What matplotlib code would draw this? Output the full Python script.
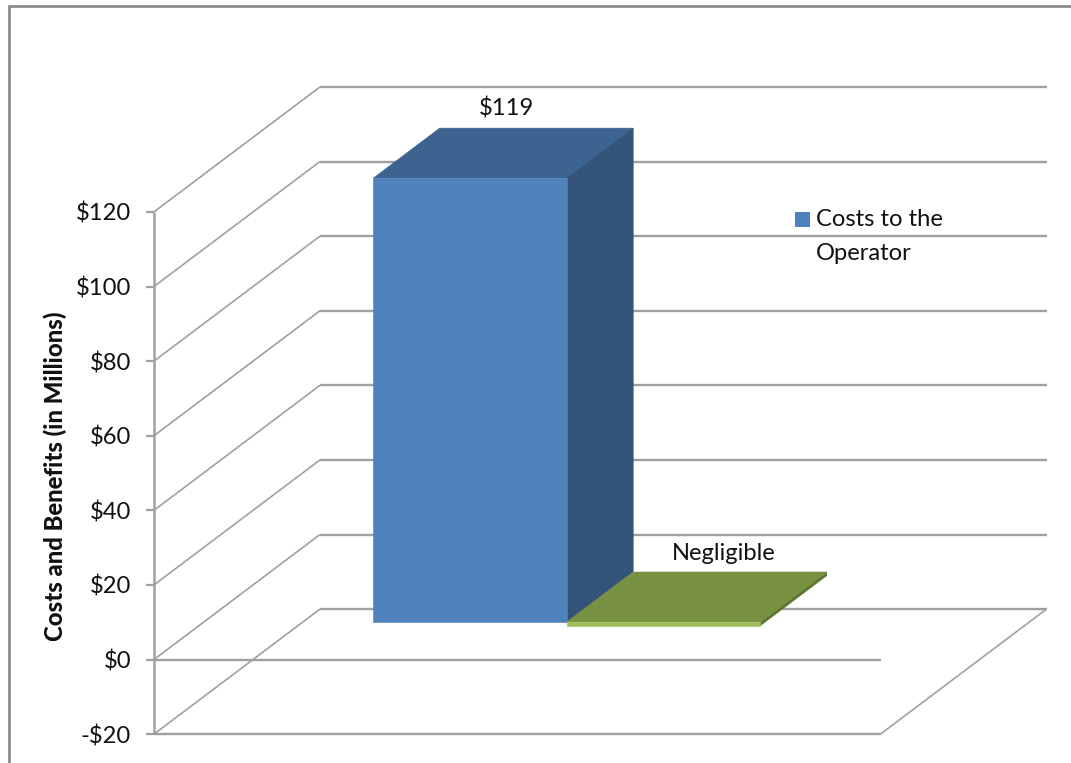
import matplotlib
matplotlib.use("Agg")
import matplotlib.pyplot as plt
from matplotlib.patches import Polygon, Rectangle

plt.rcParams['font.family'] = ['Lato', 'DejaVu Sans']

# chart data
categories = ["Costs to the Operator", "Other"]
values = [119, -1]
value_labels = ["$119", "Negligible"]
tick_values = [-20, 0, 20, 40, 60, 80, 100, 120]
tick_labels = ["-$20", "$0", "$20", "$40", "$60", "$80", "$100", "$120"]
legend_lines = ["Costs to the", "Operator"]
y_title = "Costs and Benefits (in Millions)"

# chart box in pixels
X0 = 154
PLOT_W = 726.5
Y_ZERO = 659.5
PX_PER_UNIT = 3.73
DEPTH_X = 166
DEPTH_Y = 125
GAP = 169.5
BAR_W = 193.5
D_FRONT = 0.30
D_BACK = 0.70

GRID = "#a0a0a0"
FRAME = "#868686"
INK = "#111111"
FONT = 17.1


def project(x, value, depth=0.0):
    # x in px along the front edge, value in $M, depth 0 (front) to 1 (back)
    return (X0 + x + depth * DEPTH_X, Y_ZERO - value * PX_PER_UNIT - depth * DEPTH_Y)


def face(ax, corners, color, z=3):
    ax.add_patch(Polygon([project(*c) for c in corners], closed=True, facecolor=color,
                         edgecolor=color, linewidth=0.4, zorder=z))


def draw_line(ax, a, b, lw=1.7, z=1, color=GRID):
    ax.plot([a[0], b[0]], [a[1], b[1]], color=color, lw=lw, zorder=z, solid_capstyle="butt")


fig = plt.figure(figsize=(10.71, 7.63), dpi=100)
ax = fig.add_axes([0, 0, 1, 1])
ax.set_xlim(0, 1071)
ax.set_ylim(763, 0)
ax.axis("off")

# outer chart frame
ax.plot([9, 9, 1071], [763, 6, 6], color=FRAME, lw=1.9, zorder=1, solid_joinstyle="miter")

# back wall lines and side wall diagonals
for v in tick_values:
    draw_line(ax, project(0, v, 1), project(PLOT_W, v, 1))
    draw_line(ax, project(0, v, 0), project(0, v, 1), lw=1.2)

# floor front, right edge, and the zero line across the front
floor = tick_values[0]
draw_line(ax, project(0, floor), project(PLOT_W, floor))
draw_line(ax, project(PLOT_W, floor), project(PLOT_W, floor, 1), lw=1.2)

# value axis and ticks
draw_line(ax, project(0, tick_values[0]), project(0, tick_values[-1]), lw=1.8, z=2)
for v, lab in zip(tick_values, tick_labels):
    x, y = project(0, v)
    draw_line(ax, (x - 8, y), (x, y), lw=1.6, z=2)
    ax.text(x - 23, y + 2, lab, ha="right", va="center", fontsize=FONT, color=INK)

ax.text(55, 476, y_title, rotation=90, ha="center", va="center",
        fontsize=17.2, fontweight=900, color=INK)

# blue bar
left = GAP
right = left + BAR_W
top = values[0]
face(ax, [(left, top, D_FRONT), (right, top, D_FRONT), (right, top, D_BACK), (left, top, D_BACK)], "#3d6390")
face(ax, [(right, 0, D_FRONT), (right, top, D_FRONT), (right, top, D_BACK), (right, 0, D_BACK)], "#335379")
face(ax, [(left, 0, D_FRONT), (right, 0, D_FRONT), (right, top, D_FRONT), (left, top, D_FRONT)], "#4f81bd", z=4)

# green bar, a thin slab under the zero plane
left2 = right
right2 = left2 + BAR_W
low = values[1]
face(ax, [(right2, low, D_FRONT), (right2, 0, D_FRONT), (right2, 0, D_BACK), (right2, low, D_BACK)], "#5f7530")
face(ax, [(left2, 0, D_FRONT), (right2, 0, D_FRONT), (right2, 0, D_BACK), (left2, 0, D_BACK)], "#779141", z=4)
face(ax, [(left2, low, D_FRONT), (right2, low, D_FRONT), (right2, 0, D_FRONT), (left2, 0, D_FRONT)], "#9bbb59", z=4)

# zero line runs in front of the floor
draw_line(ax, project(0, 0), project(PLOT_W, 0), z=2)

# value labels
ax.text(506, 108, value_labels[0], ha="center", va="center", fontsize=FONT, color=INK)
ax.text(724, 554, value_labels[1], ha="center", va="center", fontsize=FONT, color=INK)

# legend
ax.add_patch(Rectangle((795, 212), 15, 15, facecolor="#4f81bd", edgecolor="none", zorder=5))
ax.text(816, 220, legend_lines[0], ha="left", va="center", fontsize=FONT, color=INK, zorder=5)
ax.text(816, 253, legend_lines[1], ha="left", va="center", fontsize=FONT, color=INK, zorder=5)

fig.savefig("out.png", dpi=100)
